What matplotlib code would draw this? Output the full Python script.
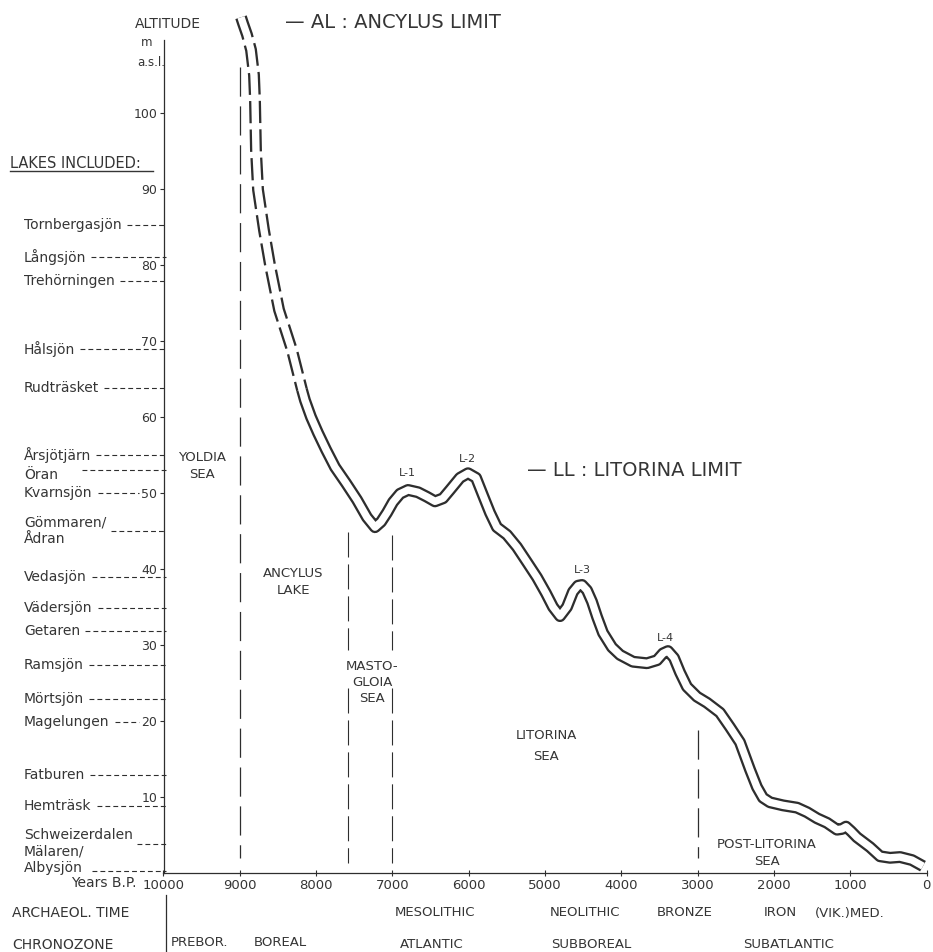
import matplotlib
matplotlib.use('Agg')
import matplotlib.pyplot as plt
import matplotlib.transforms as mtransforms

plt.rcParams['font.family'] = ['DejaVu Sans']
plt.rcParams['lines.scale_dashes'] = False

W, H = 933, 952
INK = '#2e2e2e'
TXT = '#353535'

# ---------------- data ----------------
# shoreline displacement curve (years B.P., altitude m a.s.l.)
curve_years = [8984, 8958, 8906, 8853, 8814, 8801, 8788, 8761, 8683, 8604, 8486, 8316, 8185,
               8146, 8067, 7975, 7870, 7752, 7608, 7464, 7333, 7228, 7149, 7071, 6992, 6900,
               6795, 6664, 6547, 6442, 6337, 6245, 6114, 6009, 5904, 5813, 5721, 5630, 5499,
               5368, 5236, 5105, 4987, 4895, 4803, 4712, 4633, 4567, 4515, 4450, 4384, 4318,
               4240, 4122, 4017, 3847, 3663, 3532, 3453, 3388, 3309, 3231, 3139, 3008, 2877,
               2707, 2576, 2445, 2313, 2222, 2143, 2051, 1881, 1697, 1566, 1435, 1304, 1173,
               1107, 1055, 989, 911, 740, 609, 478, 347, 190, 46]
curve_alt = [112.6, 111.8, 110.3, 108.3, 105.0, 101.7, 95.1, 89.9, 84.6, 80.0, 74.1, 68.8, 63.6,
             62.2, 60.0, 57.9, 55.7, 53.4, 51.3, 49.1, 46.8, 45.5, 46.2, 47.4, 48.8, 49.9,
             50.4, 50.1, 49.5, 48.9, 49.3, 50.4, 52.0, 52.6, 52.0, 49.7, 47.4, 45.5, 44.5,
             42.9, 40.9, 38.9, 36.8, 35.0, 33.8, 35.0, 37.0, 37.8, 37.9, 37.2, 35.7, 33.7,
             31.6, 29.7, 28.7, 27.8, 27.6, 28.0, 28.9, 29.2, 28.3, 26.4, 24.5, 23.2, 22.4,
             21.1, 19.2, 17.2, 13.6, 11.3, 9.9, 9.3, 8.9, 8.6, 8.0, 7.2, 6.6, 5.7,
             5.8, 6.1, 5.5, 4.7, 3.4, 2.2, 2.0, 2.1, 1.7, 0.9]
n_dashed = 13  # the uncertain (dashed) upper part of the curve

lakes = ['Tornbergasjön', 'Långsjön', 'Trehörningen', 'Hålsjön', 'Rudträsket',
         'Årsjötjärn', 'Öran', 'Kvarnsjön', 'Gömmaren/\nÅdran', 'Vedasjön',
         'Vädersjön', 'Getaren', 'Ramsjön', 'Mörtsjön', 'Magelungen',
         'Fatburen', 'Hemträsk', 'Schweizerdalen', 'Mälaren/\nAlbysjön']
lake_alt = [85.3, 81.1, 77.9, 68.9, 63.8, 55.0, 53.0, 50.0, 45.0, 38.9,
            34.9, 31.8, 27.4, 22.9, 19.9, 12.9, 8.8, 3.8, 0.2]

yticks = [10, 20, 30, 40, 50, 60, 70, 80, 90, 100]
xticks = [10000, 9000, 8000, 7000, 6000, 5000, 4000, 3000, 2000, 1000, 0]
xticklabels = [str(v) for v in xticks]

period_bounds = [9000, 7580, 7000, 3000]
peaks = ['L-1', 'L-2', 'L-3', 'L-4']

archaeol = ['MESOLITHIC', 'NEOLITHIC', 'BRONZE', 'IRON', '(VIK.)MED.']
archaeol_pos = [6442, 4476, 3165, 1920, 1003]
chrono = ['ATLANTIC', 'SUBBOREAL', 'SUBATLANTIC']
chrono_pos = [6481, 4397, 1802]

# ---------------- figure ----------------
fig = plt.figure(figsize=(W / 100, H / 100), dpi=100)
fig.patch.set_facecolor('white')
x0, x1, ybot = 163.5, 926.5, 873
ax = fig.add_axes([x0 / W, (H - ybot) / H, (x1 - x0) / W, ybot / H])
ax.set_xlim(10000, 0)
ax.set_ylim(0, ybot / 7.6)
ax.patch.set_alpha(0)

for s in ['top', 'right']:
    ax.spines[s].set_visible(False)
for s in ['left', 'bottom']:
    ax.spines[s].set_color(INK)
    ax.spines[s].set_linewidth(0.9)
ax.spines['left'].set_bounds(0, 109.6)

ax.set_yticks(yticks)
ax.set_yticklabels([str(v) for v in yticks])
ax.set_xticks(xticks)
ax.set_xticklabels(xticklabels)
ax.tick_params(axis='y', direction='out', length=3, width=0.8, pad=1.5,
               labelsize=9, colors=INK, labelcolor=TXT)
ax.tick_params(axis='x', direction='inout', length=5, width=0.8, pad=2,
               labelsize=9.5, colors=INK, labelcolor=TXT)

def px(x, y):
    return x / W, 1 - y / H

# period boundary dashed lines
ax.plot([period_bounds[0]] * 2, [106.0, 2.0], color=INK, lw=0.9, dashes=(21, 7))
for b, top in zip(period_bounds[1:3], [44.9, 44.5]):
    ax.plot([b, b], [top, 29.3], color=INK, lw=0.8, dashes=(18, 5))
    ax.plot([b, b], [24.3, 1.3], color=INK, lw=0.8, dashes=(18, 5))
ax.plot([period_bounds[3]] * 2, [18.8, 2.0], color=INK, lw=0.9, dashes=(21, 7))

# double-line curve
ax.plot(curve_years[:n_dashed], curve_alt[:n_dashed], color=INK, lw=8.6,
        dashes=(16, 4.5), solid_capstyle='butt', dash_capstyle='butt', clip_on=False, zorder=3)
ax.plot(curve_years[n_dashed - 1:], curve_alt[n_dashed - 1:], color=INK, lw=8.6,
        solid_joinstyle='round', solid_capstyle='butt', clip_on=False, zorder=3)
ax.plot(curve_years, curve_alt, color='white', lw=5.3, solid_joinstyle='round',
        solid_capstyle='butt', clip_on=False, zorder=4)

# peak labels
peak_px = [(407, 473), (467, 459), (582, 570), (665, 638)]
for lab, (x, y) in zip(peaks, peak_px):
    fig.text(*px(x, y), lab, fontsize=8, color=TXT, ha='center', va='center')

# limit labels
fig.text(*px(285, 22), '— AL : ANCYLUS LIMIT', fontsize=14, color=TXT, ha='left', va='center')
fig.text(*px(527, 470), '— LL : LITORINA LIMIT', fontsize=14, color=TXT, ha='left', va='center')

# region labels
regions = [('YOLDIA\nSEA', 202, 466, 1.45, 9.5), ('ANCYLUS\nLAKE', 293, 582, 1.4, 9.5),
           ('MASTO-\nGLOIA\nSEA', 372, 682, 1.3, 9.5), ('LITORINA\nSEA', 546, 746, 1.8, 9.5),
           ('POST-LITORINA\nSEA', 767, 853, 1.4, 9.5)]
for t, x, y, ls, fs in regions:
    fig.text(*px(x, y), t, fontsize=fs, color=TXT, ha='center', va='center',
             multialignment='center', linespacing=ls)

# axis titles
fig.text(*px(168, 24), 'ALTITUDE', fontsize=10, color=TXT, ha='center', va='center')
fig.text(*px(147, 42), 'm', fontsize=8.5, color=TXT, ha='center', va='center')
fig.text(*px(165, 62), 'a.s.l.', fontsize=8.5, color=TXT, ha='right', va='center')
fig.text(*px(10, 163), 'LAKES INCLUDED:', fontsize=10.5, color=TXT, ha='left', va='center')
fig.add_artist(plt.Line2D([10 / W, 153 / W], [1 - 171 / H] * 2, color=TXT, lw=1.0))

# lake labels with dashed leaders
blend = mtransforms.blended_transform_factory(fig.transFigure, ax.transData)
text_off = {6: 5, 17: -9, 18: -12}   # pixel shift of text relative to leader
lead_min = {6: 82, 17: 137, 18: 92}
lake_texts = []
for i, (name, a) in enumerate(zip(lakes, lake_alt)):
    yy = ybot - a * 7.6 + text_off.get(i, 0)
    ls = 1.25 if '\n' in name else 1.2
    t = fig.text(*px(24, yy), name, fontsize=10, color=TXT, ha='left', va='center',
                 linespacing=ls)
    lake_texts.append(t)
fig.canvas.draw()
r = fig.canvas.get_renderer()
ylabels = ax.get_yticklabels()
for i, (t, a) in enumerate(zip(lake_texts, lake_alt)):
    bb = t.get_window_extent(r)
    start = bb.x1 + 5
    if i == 17:
        start = bb.x1 - 28
    start = max(start, lead_min.get(i, 0))
    if i == 18:
        start = max(lead_min[18], bb.x1 + 3)
    # stop before a tick label sitting on the same level
    end_px = 166
    for tv, tl in zip(yticks, ylabels):
        if abs(tv - a) < 0.6:
            end_px = tl.get_window_extent(r).x0 - 2
    ax.plot([start / W, end_px / W], [a, a], transform=blend, color=INK, lw=0.8,
            dashes=(3.5, 2.2), clip_on=False)

# bottom rows
fig.text(*px(137, 883), 'Years B.P.', fontsize=10, color=TXT, ha='right', va='center')
fig.text(*px(12, 913), 'ARCHAEOL. TIME', fontsize=10, color=TXT, ha='left', va='center')
fig.text(*px(12, 945), 'CHRONOZONE', fontsize=10, color=TXT, ha='left', va='center')
fig.add_artist(plt.Line2D([166 / W] * 2, [1 - 895 / H, 1 - 951 / H], color=INK, lw=0.9))
trow = mtransforms.blended_transform_factory(ax.transData, fig.transFigure)
for lab, p in zip(archaeol, archaeol_pos):
    ax.text(p, 1 - 913 / H, lab, transform=trow, fontsize=9.5, color=TXT,
            ha='center', va='center', clip_on=False)
for lab, p in zip(chrono, chrono_pos):
    ax.text(p, 1 - 945 / H, lab, transform=trow, fontsize=9.5, color=TXT,
            ha='center', va='center', clip_on=False)
fig.text(*px(171, 943), 'PREBOR.', fontsize=9.5, color=TXT, ha='left', va='center')
fig.text(*px(280, 943), 'BOREAL', fontsize=9.5, color=TXT, ha='center', va='center')

fig.savefig('out.png', dpi=100, facecolor='white')
